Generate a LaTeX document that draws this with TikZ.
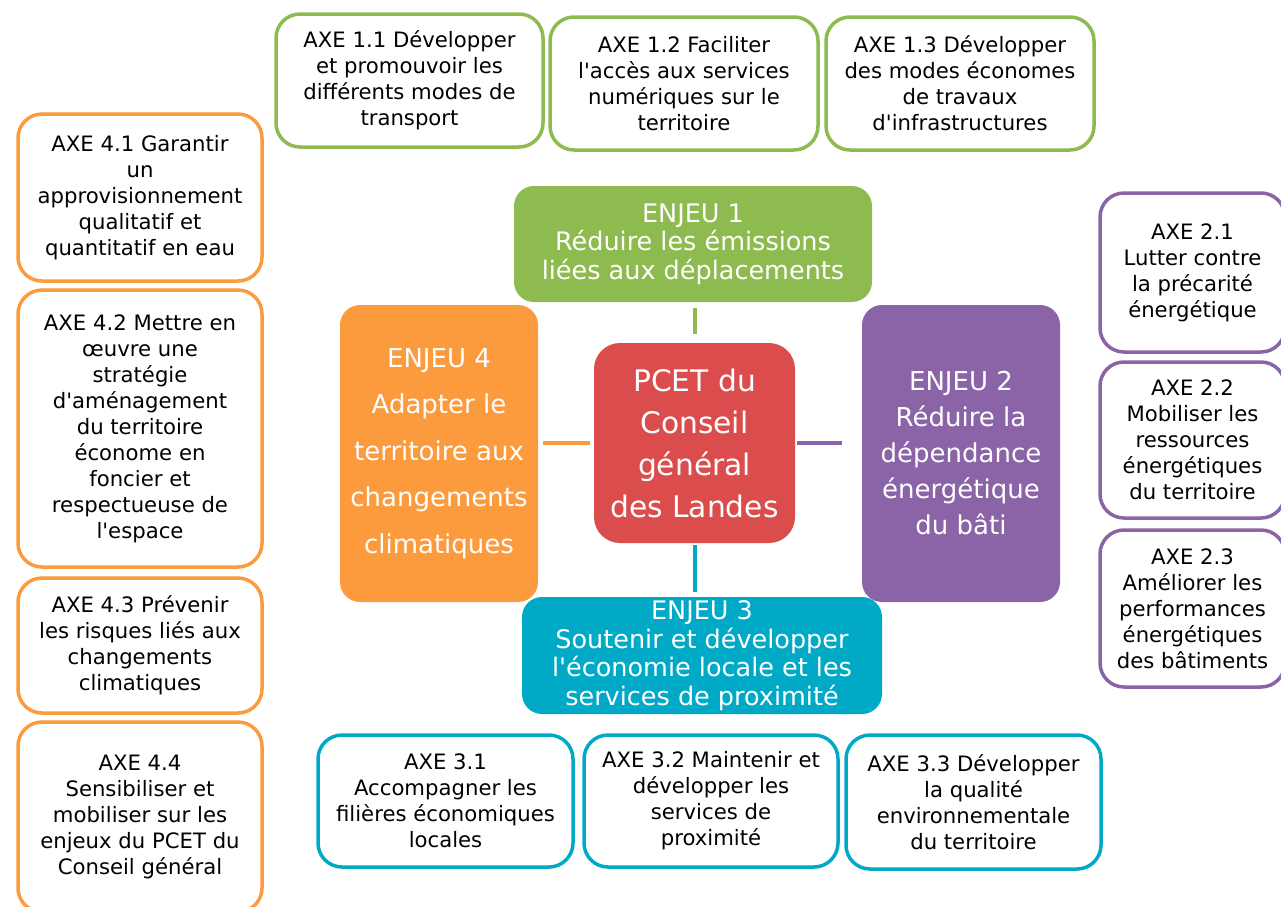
\documentclass[tikz,border=0pt]{standalone}
\usepackage{fontspec}
\newfontfamily\dv{DejaVu Sans}
\definecolor{cgreen}{HTML}{8DBB4F}
\definecolor{corange}{HTML}{FC9A3E}
\definecolor{cpurple}{HTML}{8A64A6}
\definecolor{cteal}{HTML}{00AAC6}
\definecolor{cred}{HTML}{DB4D4D}
\begin{document}
\begin{tikzpicture}[x=1pt,y=-1pt,
  axebox/.style={draw=#1, rounded corners=24pt, line width=3.5pt, fill=white, align=center, inner sep=0pt, text=black,
    font=\dv\fontsize{21.2}{26}\selectfont},
  enjeubox/.style={fill=#1, draw=none, rounded corners=20pt, align=center, inner sep=0pt, text=white},
  link/.style={draw=#1, line width=4pt}]
\useasboundingbox (0,0) rectangle (1281,906);
% AXE 1
\node[axebox=cgreen, minimum width=267pt, minimum height=133pt] (a11) at (409.5,80.5) {AXE 1.1 Développer\\et promouvoir les\\différents modes de\\transport};
\node[axebox=cgreen, minimum width=268pt, minimum height=133pt] (a12) at (684,83.5) {AXE 1.2 Faciliter\\l'accès aux services\\numériques sur le\\territoire};
\node[axebox=cgreen, minimum width=268pt, minimum height=133pt] (a13) at (960,83.5) {AXE 1.3 Développer\\des modes économes\\de travaux\\d'infrastructures};
% AXE 4
\node[axebox=corange, minimum width=244pt, minimum height=167pt] (a41) at (140,197.5) {AXE 4.1 Garantir\\un\\approvisionnement\\qualitatif et\\quantitatif en eau};
\node[axebox=corange, minimum width=244pt, minimum height=277pt] (a42) at (140,428.5) {AXE 4.2 Mettre en\\œuvre une\\stratégie\\d'aménagement\\du territoire\\économe en\\foncier et\\respectueuse de\\l'espace};
\node[axebox=corange, minimum width=244pt, minimum height=135pt] (a43) at (140,645.5) {AXE 4.3 Prévenir\\les risques liés aux\\changements\\climatiques};
\node[axebox=corange, minimum width=244pt, minimum height=190pt] (a44) at (140,817) {AXE 4.4\\Sensibiliser et\\mobiliser sur les\\enjeux du PCET du\\Conseil général};
% AXE 2
\node[axebox=cpurple, minimum width=185pt, minimum height=159pt] (a21) at (1192.5,272.5) {AXE 2.1\\Lutter contre\\la précarité\\énergétique};
\node[axebox=cpurple, minimum width=185pt, minimum height=156pt] (a22) at (1192.5,440) {AXE 2.2\\Mobiliser les\\ressources\\énergétiques\\du territoire};
\node[axebox=cpurple, minimum width=185pt, minimum height=157pt] (a23) at (1192.5,608.5) {AXE 2.3\\Améliorer les\\performances\\énergétiques\\des bâtiments};
% AXE 3
\node[axebox=cteal, minimum width=255pt, minimum height=132pt] (a31) at (445.5,801) {AXE 3.1\\Accompagner les\\filières économiques\\locales};
\node[axebox=cteal, minimum width=254pt, minimum height=132pt] (a32) at (711,801) {AXE 3.2 Maintenir et\\développer les\\services de\\proximité};
\node[axebox=cteal, minimum width=255pt, minimum height=134pt] (a33) at (973.5,802) {AXE 3.3 Développer\\la qualité\\environnementale\\du territoire};
% ENJEUX
\node[enjeubox=cgreen, minimum width=358pt, minimum height=116pt, font=\dv\fontsize{25.5}{28.5}\selectfont] (e1) at (693,244) {\raisebox{4pt}{ENJEU 1}\\\raisebox{4pt}{Réduire les émissions}\\\raisebox{4pt}{liées aux déplacements}};
\node[enjeubox=corange, minimum width=198pt, minimum height=297pt, font=\dv\fontsize{26}{46.5}\selectfont] (e4) at (439,453.5) {ENJEU 4\\Adapter le\\territoire aux\\changements\\climatiques};
\node[enjeubox=cpurple, minimum width=198pt, minimum height=297pt, font=\dv\fontsize{26}{36}\selectfont] (e2) at (961,453.5) {ENJEU 2\\Réduire la\\dépendance\\énergétique\\du bâti};
\node[enjeubox=cteal, minimum width=360pt, minimum height=117pt, font=\dv\fontsize{25.5}{28.5}\selectfont] (e3) at (702,655.5) {ENJEU 3\\Soutenir et développer\\l'économie locale et les\\services de proximité};
\node[enjeubox=cred, minimum width=201pt, minimum height=200pt, rounded corners=26pt, font=\dv\fontsize{29.7}{42}\selectfont] (c) at (694.5,443) {PCET du\\Conseil\\général\\des Landes};
% links
\draw[link=cgreen, shorten <=6pt, shorten >=9pt] (e1.south -| c.north) -- (c.north);
\draw[link=corange, shorten <=5pt, shorten >=4pt] (e4.east |- c.west) -- (c.west);
\draw[link=cpurple, shorten <=2pt, shorten >=20pt] (c.east) -- (e2.west |- c.east);
\draw[link=cteal, shorten <=2pt, shorten >=5pt] (c.south) -- (c.south |- e3.north);
\end{tikzpicture}
\end{document}
